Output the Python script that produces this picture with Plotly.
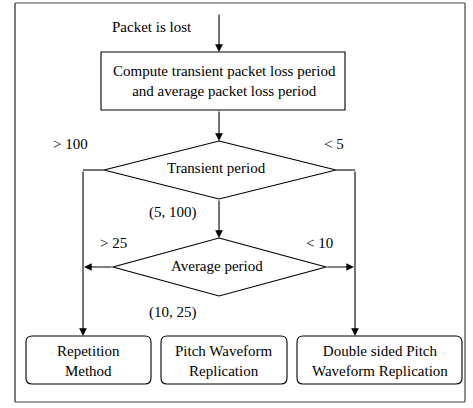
import plotly.graph_objects as go

W, H = 473, 408
FONT = dict(family="Liberation Serif", size=15, color="black")

# ---- content (text) ----
start_label = "Packet is lost"
compute_label = "Compute transient packet loss period<br>and average packet loss period"
decision_labels = ["Transient period", "Average period"]
branch_labels = ["> 100", "< 5", "(5, 100)", "> 25", "< 10", "(10, 25)"]
method_labels = ["Repetition<br>Method", "Pitch Waveform<br>Replication",
                 "Double sided Pitch<br>Waveform Replication"]

# ---- layout geometry (pixels) ----
frame = (15, 3, 465, 402)
cx = 219
compute_box = (101, 52, 345, 110)
diamonds = [(104, 141, 336, 199), (113, 238, 326, 296)]  # x0, ytop, x1, ybottom
left_x, right_x = 83, 355
method_boxes = [(26, 336, 151, 384), (161, 336, 287, 384), (297, 336, 462, 384)]
branch_pos = [(70, 144), (334, 144), (173, 212), (113, 243), (319, 243), (173, 312)]

fig = go.Figure()
shapes = []
LINE = dict(color="black", width=1.1)

# outer frame: lighter top edge, darker sides/bottom
fx0, fy0, fx1, fy1 = frame
shapes.append(dict(type="line", x0=fx0, y0=fy0, x1=fx1, y1=fy0,
                   line=dict(color="#888", width=1.5)))
shapes.append(dict(type="line", x0=fx0, y0=fy0, x1=fx0, y1=fy1,
                   line=dict(color="#222", width=1.2)))
shapes.append(dict(type="line", x0=fx1, y0=fy0, x1=fx1, y1=fy1,
                   line=dict(color="#444", width=1.2)))
shapes.append(dict(type="line", x0=fx0, y0=fy1, x1=fx1, y1=fy1,
                   line=dict(color="#444", width=1.2)))

shapes.append(dict(type="rect", x0=compute_box[0], y0=compute_box[1], x1=compute_box[2],
                   y1=compute_box[3], line=LINE))
for (x0, yt, x1, yb) in diamonds:
    ym = (yt + yb) / 2
    shapes.append(dict(type="path",
                       path=f"M {cx},{yt} L {x1},{ym} L {cx},{yb} L {x0},{ym} Z",
                       line=LINE))

def rounded(x0, y0, x1, y1, r=6):
    return (f"M {x0+r},{y0} L {x1-r},{y0} Q {x1},{y0} {x1},{y0+r} "
            f"L {x1},{y1-r} Q {x1},{y1} {x1-r},{y1} L {x0+r},{y1} "
            f"Q {x0},{y1} {x0},{y1-r} L {x0},{y0+r} Q {x0},{y0} {x0+r},{y0} Z")

for b in method_boxes:
    shapes.append(dict(type="path", path=rounded(*b), line=LINE))

d1 = diamonds[0]
ym1 = (d1[1] + d1[3]) / 2
shapes.append(dict(type="line", x0=d1[0], y0=ym1, x1=left_x, y1=ym1, line=LINE))
shapes.append(dict(type="line", x0=d1[2], y0=ym1, x1=right_x, y1=ym1, line=LINE))

fig.update_layout(shapes=shapes)

annotations = []

def arrow(x0, y0, x1, y1):
    annotations.append(dict(x=x1, y=y1, ax=x0, ay=y0, xref="x", yref="y",
                            axref="x", ayref="y", text="", showarrow=True,
                            arrowhead=2, arrowsize=1.4, arrowwidth=1.1,
                            arrowcolor="black", standoff=0))

arrow(cx, 13, cx, compute_box[1])
arrow(cx, compute_box[3], cx, diamonds[0][1])
arrow(cx, diamonds[0][3], cx, diamonds[1][1])
d2 = diamonds[1]
ym2 = (d2[1] + d2[3]) / 2
arrow(d2[0], ym2, left_x + 1, ym2)
arrow(d2[2], ym2, right_x - 1, ym2)
arrow(left_x, ym1, left_x, method_boxes[0][1])
arrow(right_x, ym1, right_x, method_boxes[2][1])

def text(x, y, s):
    annotations.append(dict(x=x, y=y, xref="x", yref="y", text=s, showarrow=False,
                            font=FONT, xanchor="center", yanchor="middle", align="center"))

text(152, 27, start_label)
text((compute_box[0] + compute_box[2]) / 2 + 1, (compute_box[1] + compute_box[3]) / 2, compute_label)
text(cx - 3, ym1 - 2, decision_labels[0])
text(cx - 2, ym2 - 1, decision_labels[1])
for (x, y), s in zip(branch_pos, branch_labels):
    text(x, y, s)
for b, s in zip(method_boxes, method_labels):
    text((b[0] + b[2]) / 2, (b[1] + b[3]) / 2 + 1, s)

fig.update_layout(annotations=annotations)

fig.update_layout(
    width=W, height=H, margin=dict(l=0, r=0, t=0, b=0),
    paper_bgcolor="white", plot_bgcolor="white", showlegend=False,
    xaxis=dict(range=[0, W], visible=False, fixedrange=True),
    yaxis=dict(range=[H, 0], visible=False, fixedrange=True),
)
fig.write_html("out.html", config={"displayModeBar": False},
               post_script="document.body.style.margin='0';document.body.style.overflow='hidden';")
